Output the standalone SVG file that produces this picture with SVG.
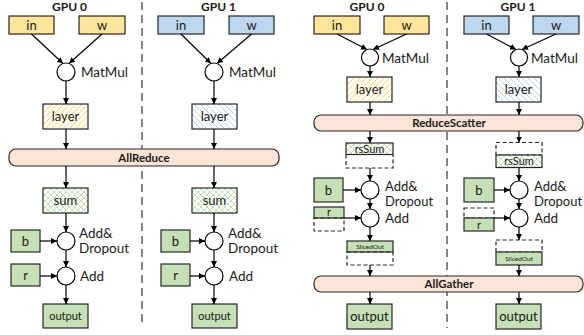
<svg xmlns="http://www.w3.org/2000/svg" width="584" height="335" viewBox="0 0 584 335">
<defs>
<marker id="ah" markerUnits="userSpaceOnUse" markerWidth="6" markerHeight="6" refX="6" refY="3" orient="auto"><path d="M0,0 L6,3 L0,6 z" fill="#000"/></marker>
<pattern id="hY" patternUnits="userSpaceOnUse" width="6" height="6"><rect width="6" height="6" fill="#fff"/><path d="M0,6 L6,0 M-1,1 L1,-1 M5,7 L7,5" stroke="#FFD45C" stroke-width="1"/></pattern>
<pattern id="hB" patternUnits="userSpaceOnUse" width="6" height="6"><rect width="6" height="6" fill="#fff"/><path d="M0,0 L6,6 M-1,5 L1,7 M5,-1 L7,1" stroke="#B4D2EC" stroke-width="1"/></pattern>
<pattern id="hG" patternUnits="userSpaceOnUse" width="6" height="6"><rect width="6" height="6" fill="#fff"/><path d="M0,6 L6,0 M-1,1 L1,-1 M5,7 L7,5 M0,0 L6,6 M-1,5 L1,7 M5,-1 L7,1" stroke="#BCDCA8" stroke-width="0.9"/></pattern>
</defs>
<style>
text{font-family:Lato,"Liberation Sans",sans-serif;fill:#1a1a1a}
.t{font-size:12px;font-weight:bold;text-anchor:middle}
.l{font-size:13px;text-anchor:middle}
.s{font-size:11px;text-anchor:middle}
.xs{font-size:6.5px;text-anchor:middle}
.op{font-size:13.5px}
.op2{font-size:13px}
.b{stroke:#262626;stroke-width:1.2}
.y{fill:#FFE699}
.bl{fill:#BDD7EE}
.g{fill:#C5E0B4}
.bar{fill:#FBE5D6;stroke:#262626;stroke-width:1.2}
.d{fill:none;stroke:#262626;stroke-width:1.2;stroke-dasharray:4,2.5}
.c{fill:#fff;stroke:#000;stroke-width:1.2}
.e{stroke:#000;stroke-width:1.2;fill:none;marker-end:url(#ah)}
.div{stroke:#333;stroke-width:1.2;stroke-dasharray:8,5}
</style>

<g id="dividers">
<line class="div" x1="142" y1="2" x2="142" y2="326"/>
<line class="div" x1="447" y1="2" x2="447" y2="328"/>
</g>

<!-- Left panel -->
<g id="L-titles">
<text class="t" x="69.5" y="11">GPU 0</text>
<text class="t" x="218.5" y="11">GPU 1</text>
</g>
<g id="L0-in"><rect class="b y" x="9" y="16" width="45" height="18"/><text class="l" x="31.5" y="29.5">in</text></g>
<g id="L0-w"><rect class="b y" x="79" y="16" width="46" height="18"/><text class="l" x="102" y="29.5">w</text></g>
<g id="L0-matmul"><circle class="c" cx="66" cy="72" r="9"/><text class="op" x="81" y="77">MatMul</text></g>
<g id="L0-layer"><rect class="b" fill="url(#hY)" x="43" y="104" width="45" height="25"/><text class="l" x="65.5" y="121">layer</text></g>
<g id="L0-sum"><rect class="b" fill="url(#hG)" x="43" y="188" width="45" height="25"/><text class="l" x="65.5" y="205">sum</text></g>
<g id="L0-adddrop"><circle class="c" cx="66" cy="241" r="9"/><text class="op" x="79" y="238">Add&amp;</text><text class="op" x="79" y="253">Dropout</text></g>
<g id="L0-b"><rect class="b g" x="11" y="230" width="29" height="22"/><text class="l" x="25.5" y="245.5">b</text></g>
<g id="L0-add"><circle class="c" cx="66" cy="276" r="9"/><text class="op" x="80" y="281">Add</text></g>
<g id="L0-r"><rect class="b g" x="11" y="264" width="29" height="22"/><text class="l" x="25.5" y="279.5">r</text></g>
<g id="L0-output"><rect class="b g" x="43" y="304" width="45" height="24"/><text class="s" x="65.5" y="320">output</text></g>

<g id="L1-in"><rect class="b bl" x="158" y="16" width="46" height="18"/><text class="l" x="181" y="29.5">in</text></g>
<g id="L1-w"><rect class="b bl" x="229" y="16" width="45" height="18"/><text class="l" x="251.5" y="29.5">w</text></g>
<g id="L1-matmul"><circle class="c" cx="214" cy="72" r="9"/><text class="op" x="229" y="77">MatMul</text></g>
<g id="L1-layer"><rect class="b" fill="url(#hB)" x="192" y="104" width="45" height="25"/><text class="l" x="214.5" y="121">layer</text></g>
<g id="L1-sum"><rect class="b" fill="url(#hG)" x="192" y="188" width="45" height="25"/><text class="l" x="214.5" y="205">sum</text></g>
<g id="L1-adddrop"><circle class="c" cx="214" cy="241" r="9"/><text class="op" x="228" y="238">Add&amp;</text><text class="op" x="228" y="253">Dropout</text></g>
<g id="L1-b"><rect class="b g" x="161" y="230" width="29" height="22"/><text class="l" x="175.5" y="245.5">b</text></g>
<g id="L1-add"><circle class="c" cx="214" cy="276" r="9"/><text class="op" x="229" y="281">Add</text></g>
<g id="L1-r"><rect class="b g" x="161" y="264" width="29" height="22"/><text class="l" x="175.5" y="279.5">r</text></g>
<g id="L1-output"><rect class="b g" x="192" y="304" width="45" height="24"/><text class="s" x="214.5" y="320">output</text></g>

<g id="allreduce"><rect class="bar" x="9" y="149" width="270" height="17" rx="7"/><text class="t" x="144" y="161.5" style="font-size:11.5px">AllReduce</text></g>

<!-- Right panel -->
<g id="R-titles">
<text class="t" x="367" y="11">GPU 0</text>
<text class="t" x="518" y="11">GPU 1</text>
</g>
<g id="R0-in"><rect class="b y" x="314" y="16" width="46" height="18"/><text class="l" x="337" y="29.5">in</text></g>
<g id="R0-w"><rect class="b y" x="384" y="16" width="45" height="18"/><text class="l" x="406.5" y="29.5">w</text></g>
<g id="R0-matmul"><circle class="c" cx="370" cy="57.5" r="8.5"/><text class="op" x="382" y="63">MatMul</text></g>
<g id="R0-layer"><rect class="b" fill="url(#hY)" x="347" y="77" width="45" height="25"/><text class="l" x="369.5" y="94">layer</text></g>
<g id="R0-rssum"><rect class="b" fill="url(#hG)" x="346" y="143" width="47" height="11.5"/><text class="s" x="369.5" y="152.5">rsSum</text><rect class="d" x="346" y="154.5" width="47" height="13.5"/></g>
<g id="R0-adddrop"><circle class="c" cx="370" cy="190" r="9"/><text class="op2" x="385" y="191">Add&amp;</text><text class="op2" x="385" y="205.5">Dropout</text></g>
<g id="R0-b"><rect class="b g" x="314" y="178" width="29" height="24"/><text class="l" x="328.5" y="194.5">b</text></g>
<g id="R0-add"><circle class="c" cx="370" cy="218" r="9"/><text class="op" x="385" y="223">Add</text></g>
<g id="R0-r"><rect class="b g" x="314" y="207" width="30" height="11"/><text class="s" x="329" y="216">r</text><rect class="d" x="314" y="218" width="30" height="13"/></g>
<g id="R0-sliced"><rect class="b g" x="347" y="241" width="46" height="11"/><text class="xs" x="370" y="248.8">SlicedOut</text><rect class="d" x="347" y="252" width="46" height="13"/></g>
<g id="R0-output"><rect class="b g" x="347" y="304" width="45" height="25"/><text class="l" x="369.5" y="321">output</text></g>

<g id="R1-in"><rect class="b bl" x="464" y="16" width="45" height="18"/><text class="l" x="486.5" y="29.5">in</text></g>
<g id="R1-w"><rect class="b bl" x="533" y="16" width="46" height="18"/><text class="l" x="556" y="29.5">w</text></g>
<g id="R1-matmul"><circle class="c" cx="519" cy="57.5" r="8.5"/><text class="op" x="531" y="63">MatMul</text></g>
<g id="R1-layer"><rect class="b" fill="url(#hB)" x="496" y="77" width="45" height="25"/><text class="l" x="518.5" y="94">layer</text></g>
<g id="R1-rssum"><rect class="d" x="496" y="142.5" width="46" height="12.5"/><rect class="b" fill="url(#hG)" x="496" y="155" width="46" height="12.5"/><text class="s" x="519" y="165">rsSum</text></g>
<g id="R1-adddrop"><circle class="c" cx="519" cy="190" r="9"/><text class="op2" x="534" y="191">Add&amp;</text><text class="op2" x="534" y="205.5">Dropout</text></g>
<g id="R1-b"><rect class="b g" x="464" y="178" width="30" height="24"/><text class="l" x="479" y="194.5">b</text></g>
<g id="R1-add"><circle class="c" cx="519" cy="218" r="9"/><text class="op" x="534" y="223">Add</text></g>
<g id="R1-r"><rect class="d" x="464" y="208" width="30" height="10"/><rect class="b g" x="464" y="218" width="30" height="13"/><text class="s" x="479" y="228.5">r</text></g>
<g id="R1-sliced"><rect class="d" x="496" y="240" width="46" height="12"/><rect class="b g" x="496" y="252" width="46" height="13"/><text class="xs" x="519" y="260.8">SlicedOut</text></g>
<g id="R1-output"><rect class="b g" x="496" y="304" width="45" height="25"/><text class="l" x="518.5" y="321">output</text></g>

<g id="reducescatter"><rect class="bar" x="314" y="115" width="269" height="16" rx="7"/><text class="t" x="449" y="127" style="font-size:11.5px">ReduceScatter</text></g>
<g id="allgather"><rect class="bar" x="314" y="276" width="269" height="16" rx="7"/><text class="t" x="449" y="288" style="font-size:11.5px">AllGather</text></g>

<g id="connectors">
<!-- left GPU0 -->
<line class="e" x1="31.5" y1="34" x2="63" y2="63.5"/>
<line class="e" x1="102" y1="34" x2="69" y2="63.5"/>
<line class="e" x1="66" y1="81" x2="66" y2="104"/>
<line class="e" x1="66" y1="129" x2="66" y2="149"/>
<line class="e" x1="66" y1="166" x2="66" y2="188"/>
<line class="e" x1="66" y1="213" x2="66" y2="232"/>
<line class="e" x1="40" y1="241" x2="57" y2="241"/>
<line class="e" x1="66" y1="250" x2="66" y2="267"/>
<line class="e" x1="40" y1="276" x2="57" y2="276"/>
<line class="e" x1="66" y1="285" x2="66" y2="304"/>
<!-- left GPU1 -->
<line class="e" x1="181" y1="34" x2="211" y2="63.5"/>
<line class="e" x1="251.5" y1="34" x2="217" y2="63.5"/>
<line class="e" x1="214" y1="81" x2="214" y2="104"/>
<line class="e" x1="214" y1="129" x2="214" y2="149"/>
<line class="e" x1="214" y1="166" x2="214" y2="188"/>
<line class="e" x1="214" y1="213" x2="214" y2="232"/>
<line class="e" x1="190" y1="241" x2="205" y2="241"/>
<line class="e" x1="214" y1="250" x2="214" y2="267"/>
<line class="e" x1="190" y1="276" x2="205" y2="276"/>
<line class="e" x1="214" y1="285" x2="214" y2="304"/>
<!-- right GPU0 -->
<line class="e" x1="337" y1="34" x2="367" y2="49.5"/>
<line class="e" x1="406.5" y1="34" x2="373" y2="49.5"/>
<line class="e" x1="370" y1="66" x2="370" y2="77"/>
<line class="e" x1="370" y1="102" x2="370" y2="115"/>
<line class="e" x1="370" y1="131" x2="370" y2="143"/>
<line class="e" x1="370" y1="168" x2="370" y2="181"/>
<line class="e" x1="343" y1="190" x2="361" y2="190"/>
<line class="e" x1="370" y1="199" x2="370" y2="209"/>
<line class="e" x1="344" y1="218" x2="361" y2="218"/>
<line class="e" x1="370" y1="227" x2="370" y2="241"/>
<line class="e" x1="370" y1="265" x2="370" y2="276"/>
<line class="e" x1="370" y1="292" x2="370" y2="304"/>
<!-- right GPU1 -->
<line class="e" x1="486.5" y1="34" x2="516" y2="49.5"/>
<line class="e" x1="556" y1="34" x2="522" y2="49.5"/>
<line class="e" x1="519" y1="66" x2="519" y2="77"/>
<line class="e" x1="519" y1="102" x2="519" y2="115"/>
<line class="e" x1="519" y1="131" x2="519" y2="142.5"/>
<line class="e" x1="519" y1="167.5" x2="519" y2="181"/>
<line class="e" x1="494" y1="190" x2="510" y2="190"/>
<line class="e" x1="519" y1="199" x2="519" y2="209"/>
<line class="e" x1="494" y1="218" x2="510" y2="218"/>
<line class="e" x1="519" y1="227" x2="519" y2="240"/>
<line class="e" x1="519" y1="265" x2="519" y2="276"/>
<line class="e" x1="519" y1="292" x2="519" y2="304"/>
</g>
</svg>
